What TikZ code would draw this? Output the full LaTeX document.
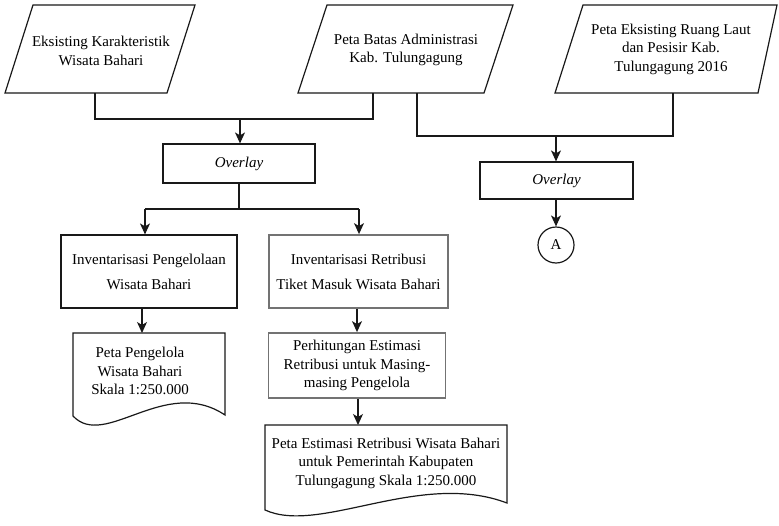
\documentclass[tikz,border=0pt]{standalone}
\usepackage{fontspec}
\setmainfont{Liberation Serif}
\usetikzlibrary{arrows.meta}
\begin{document}
\begin{tikzpicture}[x=1pt,y=-1pt,
  every node/.style={font=\fontsize{15}{18.5}\selectfont, align=center, inner sep=0pt},
  ln/.style={line width=1.2pt, draw=black!90},
  arr/.style={ln, -{Stealth[length=11pt,width=10pt,inset=3pt]}},
  blackbox/.style={ln, rectangle},
  graybox/.style={line width=1.8pt, draw=black!55, rectangle},
  widelines/.style={font=\fontsize{15}{25}\selectfont}]
\useasboundingbox (0,0) rectangle (779,525);

% input parallelograms
\draw[ln] (33,5) -- (195,5) -- (167,93) -- (5,93) -- cycle;
\node (t1) at (101,51) {Eksisting Karakteristik\\Wisata Bahari};
\draw[ln] (327,5) -- (513,5) -- (484,93) -- (298,93) -- cycle;
\node (t2) at (406,50) {Peta Batas Administrasi\\Kab. Tulungagung};
\draw[ln] (583,5) -- (777,5) -- (758,93) -- (555,93) -- cycle;
\node (t3) at (671,49) {Peta Eksisting Ruang Laut\\dan Pesisir Kab.\\Tulungagung 2016};

% connector points on the parallelograms
\coordinate (p1b) at (95,93);
\coordinate (p2bl) at (373,93);
\coordinate (p2br) at (417,93);
\coordinate (p3b) at (673,93);
\coordinate (m1) at (95,119);
\coordinate (m2) at (373,119);
\coordinate (j1) at (240,119);
\coordinate (m3) at (417,136);
\coordinate (m4) at (673,136);
\coordinate (j2) at (556,136);

% overlay boxes
\node[blackbox, minimum width=152pt, minimum height=39pt] (ov1) at (239,163.5) {\itshape Overlay};
\node[blackbox, minimum width=153pt, minimum height=37pt] (ov2) at (556.5,180.5) {\itshape Overlay};
\node[ln, circle, minimum size=36pt] (A) at (556,245) {A};

% process boxes
\node[blackbox, widelines, minimum width=176pt, minimum height=73pt] (b1) at (149,271.5) {Inventarisasi Pengelolaan\\Wisata Bahari};
\node[graybox, widelines, minimum width=179pt, minimum height=73pt] (b2) at (358.5,271.5) {Inventarisasi Retribusi\\Tiket Masuk Wisata Bahari};
\node[graybox, minimum width=177pt, minimum height=65pt] (b3) at (357,365.5) {Perhitungan Estimasi\\Retribusi untuk Masing-\\masing Pengelola};

% documents
\draw[ln] (73,333) -- (225,333) -- (225,415) .. controls (165,375) and (105,450) .. (73,416) -- cycle;
\node (d1) at (140,371) {Peta Pengelola\\Wisata Bahari\\Skala 1:250.000};
\coordinate (d1t) at (142,333);
\draw[ln] (265,425) -- (507,425) -- (507,503) .. controls (420,470) and (320,535) .. (265,510) -- cycle;
\node (d2) at (386,463) {Peta Estimasi Retribusi Wisata Bahari\\untuk Pemerintah Kabupaten\\Tulungagung Skala 1:250.000};
\coordinate (d2t) at (358,425);

% connectors
\draw[ln] (p1b) -- (m1) -- (m2) -- (p2bl);
\draw[arr] (j1) -- (j1 |- ov1.north);
\draw[ln] (p2br) -- (m3) -- (m4) -- (p3b);
\draw[arr] (j2) -- (j2 |- ov2.north);
\draw[arr] (ov2.south -| A) -- (A.north);

\coordinate (s1) at (239,209);
\coordinate (s1l) at (145,209);
\coordinate (s1r) at (359,209);
\draw[ln] (ov1.south -| s1) -- (s1);
\draw[ln] (s1l) -- (s1r);
\draw[arr] (s1l) -- (s1l |- b1.north);
\draw[arr] (s1r) -- (s1r |- b2.north);
\draw[arr] (b1.south -| d1t) -- (d1t);
\draw[arr] (b2.south -| b3) -- (b3.north);
\draw[arr] (b3.south -| d2t) -- (d2t);
\end{tikzpicture}
\end{document}
